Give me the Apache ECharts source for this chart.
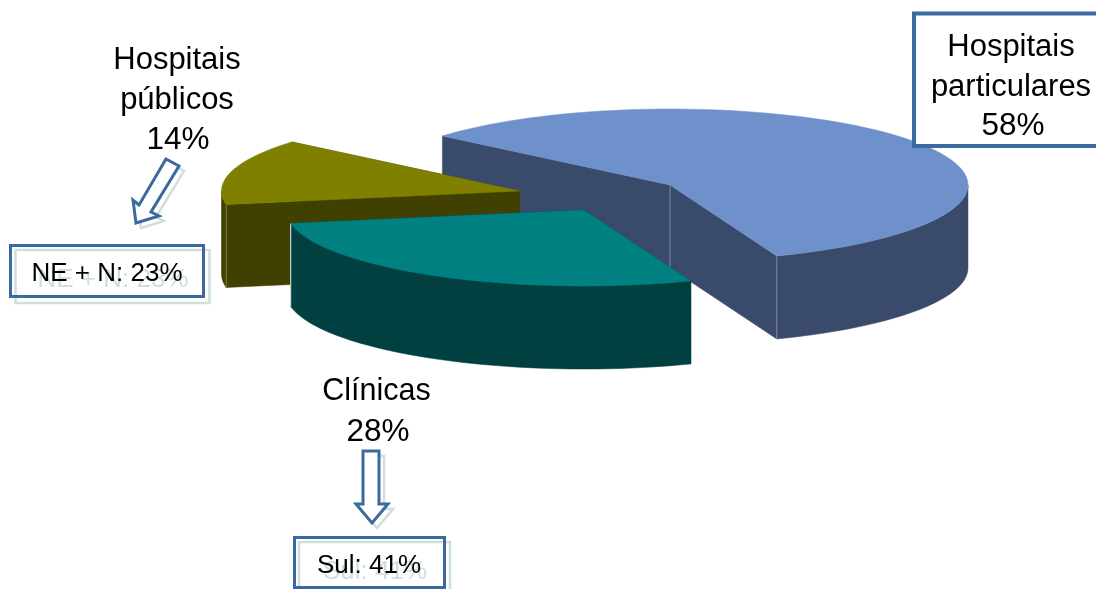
<!DOCTYPE html>
<html>
<head>
<meta charset="utf-8">
<style>html,body{margin:0;padding:0;background:#fff}#c{width:1096px;height:589px}</style>
<script src="https://cdn.jsdelivr.net/npm/echarts@6/dist/echarts.min.js"></script>
</head>
<body>
<div id="c"></div>
<script>
// Data
var categories = ['Hospitais\nparticulares', 'Clínicas', 'Hospitais\npúblicos'];
var shares = [58, 28, 14];
var regionLabels = ['', 'Sul: 41%', 'NE + N: 23%'];

// Pie geometry and styling
var startAngle = 220.2;
var rx = 298, ry = 76, depth = 83;
var apexes = [[670, 185], [584, 210], [519.5, 191]];
var topColors = ['#6E91CC', '#008080', '#808000'];
var sideColors = ['#3A4A6A', '#004040', '#404000'];
var edgeColors = ['#7C8AA6', '#E8F2F2', '#7F7F50'];
var paintOrder = [1, 3, 2];
var blue = '#3A6A9E', shade = '#CFE0DB', ink = '#000000';
var FONT = '"Liberation Sans", Arial, sans-serif';

var total = shares.reduce(function (a, b) { return a + b; }, 0);

function pt(c, deg, dz) {
  var a = deg * Math.PI / 180;
  return [c[0] + rx * Math.cos(a), c[1] + ry * Math.sin(a) + (dz || 0)];
}
function arc(c, a0, a1, dz) {
  var n = Math.max(2, Math.ceil(Math.abs(a1 - a0) / 2)), out = [];
  for (var i = 0; i <= n; i++) out.push(pt(c, a0 + (a1 - a0) * i / n, dz));
  return out;
}
function poly(points, fill, z2) {
  return { type: 'polygon', z2: z2, shape: { points: points }, style: { fill: fill, stroke: fill, lineWidth: 0.5 } };
}
function edge(p, color, z2) {
  return { type: 'line', z2: z2, shape: { x1: p[0], y1: p[1], x2: p[0], y2: p[1] + depth }, style: { stroke: color, lineWidth: 1 } };
}

function renderSlice(params, api) {
  var i = params.dataIndex;
  var before = 0;
  for (var k = 0; k < i; k++) before += shares[k];
  var a0 = startAngle + before / total * 360;
  var a1 = a0 + api.value(0) / total * 360;
  var c = apexes[i], z = paintOrder[i] * 10, kids = [];
  var side = sideColors[i];
  var pA = pt(c, a0), pB = pt(c, a1);
  // cut faces
  kids.push(poly([c, pA, [pA[0], pA[1] + depth], [c[0], c[1] + depth]], side, z));
  kids.push(poly([c, pB, [pB[0], pB[1] + depth], [c[0], c[1] + depth]], side, z));
  // outer wall: only the part of the rim facing the viewer
  [[0, 180], [360, 540]].forEach(function (r) {
    var s = Math.max(a0, r[0]), e = Math.min(a1, r[1]);
    if (e > s) kids.push(poly(arc(c, s, e, 0).concat(arc(c, e, s, depth)), side, z + 1));
  });
  // light vertical edges where faces meet
  if (i === 0) { kids.push(edge(c, edgeColors[i], z + 2)); kids.push(edge(pB, edgeColors[i], z + 2)); }
  if (i === 1) { kids.push(edge(pB, edgeColors[i], z + 2)); }
  if (i === 2) { kids.push(edge(pA, edgeColors[i], z + 2)); }
  // top face
  kids.push(poly([c].concat(arc(c, a0, a1, 0)), topColors[i], z + 3));
  return { type: 'group', children: kids };
}

function text(str, x, y, size, color, z) {
  return { type: 'text', x: x, y: y, z: z || 20, silent: true,
    style: { text: str, fill: color || ink, font: size + 'px ' + FONT, textAlign: 'center', textVerticalAlign: 'middle' } };
}
function rect(x, y, w, h, stroke, lw, fill, z) {
  return { type: 'rect', z: z, silent: true, shape: { x: x, y: y, width: w, height: h },
    style: { fill: fill, stroke: stroke, lineWidth: lw } };
}
function arrow(points, dx, dy, stroke, lw, z) {
  return { type: 'polygon', z: z, silent: true, x: dx, y: dy, shape: { points: points },
    style: { fill: dx ? 'rgba(255,255,255,0)' : '#fff', stroke: stroke, lineWidth: lw, lineJoin: 'miter' } };
}
function pct(i) { return shares[i] + '%'; }

var arrowPublic = [[166, 159], [179, 166], [151, 212], [159, 216], [136, 223], [133, 200], [139, 205]];
var arrowClinic = [[363, 451], [379, 451], [379, 504], [388, 504], [372, 523], [356, 504], [363, 504]];

var graphics = [
  // Hospitais particulares box
  rect(914, 13.5, 190, 132.5, blue, 4, '#fff', 12),
  text(categories[0].split('\n')[0], 1011, 47, 31, ink, 20),
  text(categories[0].split('\n')[1], 1011, 87, 31, ink, 20),
  text(pct(0), 1013, 126, 31.5, ink, 20),
  // Hospitais publicos
  text(categories[2].split('\n')[0], 177, 60, 31),
  text(categories[2].split('\n')[1], 177, 100, 31),
  text(pct(2), 178, 140, 31.5),
  arrow(arrowPublic, 5, 5, shade, 2.5, 12),
  arrow(arrowPublic, 0, 0, blue, 3, 13),
  // NE + N box
  rect(15.5, 250, 194, 53, shade, 2.5, 'rgba(255,255,255,0)', 12),
  text(regionLabels[2], 113, 280, 26, shade, 13),
  rect(10.5, 245.5, 193, 51, blue, 3, 'rgba(255,255,255,0)', 14),
  text(regionLabels[2], 107, 274, 26, ink, 20),
  // Clinicas
  text(categories[1], 376.5, 392, 30.5),
  text(pct(1), 378, 432, 31.5),
  arrow(arrowClinic, 5, 5, shade, 2.5, 12),
  arrow(arrowClinic, 0, 0, blue, 3, 13),
  // Sul box
  rect(299, 542, 151, 60, shade, 2.5, 'rgba(255,255,255,0)', 12),
  text(regionLabels[1], 375, 572, 26, shade, 13),
  rect(294.5, 537.5, 150, 50, blue, 3, 'rgba(255,255,255,0)', 14),
  text(regionLabels[1], 369, 566, 26, ink, 20)
];

var chart = echarts.init(document.getElementById('c'), null, { renderer: 'canvas' });
chart.setOption({
  animation: false,
  backgroundColor: '#fff',
  graphic: { elements: graphics },
  series: [{
    type: 'custom',
    coordinateSystem: 'none',
    silent: true,
    z: 2,
    data: shares.map(function (v, i) { return { name: categories[i], value: [v] }; }),
    renderItem: renderSlice
  }]
});
</script>
</body>
</html>
